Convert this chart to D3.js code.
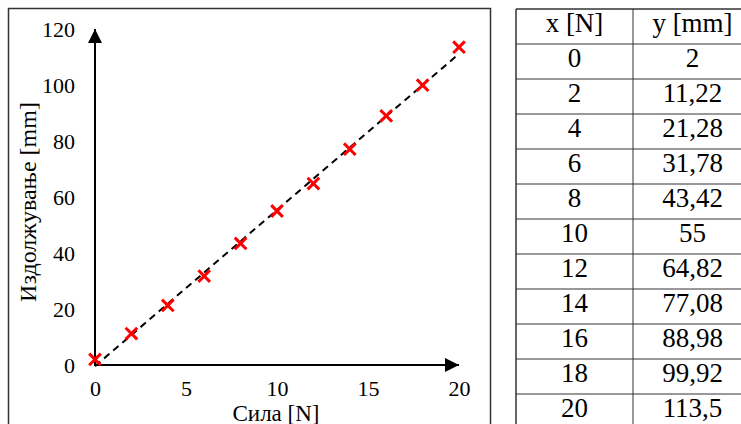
<!DOCTYPE html>
<html>
<head>
<meta charset="utf-8">
<script src="https://cdn.jsdelivr.net/npm/d3@7"></script>
<style>
	html, body { margin: 0; padding: 0; background: #fff; }
	svg { display: block; }
	svg text { font-family: "Liberation Serif"; }
</style>
</head>
<body>
<svg></svg>
<script>
var WIDTH = 741;
var HEIGHT = 424;
var FONT = '"Liberation Serif"';

// measured data (force in N, elongation in mm)
var forces = [0, 2, 4, 6, 8, 10, 12, 14, 16, 18, 20];
var elongations = [2, 11.22, 21.28, 31.78, 43.42, 55, 64.82, 77.08, 88.98, 99.92, 113.5];
var xTicks = [0, 5, 10, 15, 20];
var yTicks = [0, 20, 40, 60, 80, 100, 120];
var tableHeaders = ['x [N]', 'y [mm]'];

var svg = d3.select('svg')
	.attr('width', WIDTH)
	.attr('height', HEIGHT);

// frame around the chart
svg.append('rect')
	.attr('x', 8.5).attr('y', 8.5)
	.attr('width', 482).attr('height', 430)
	.attr('fill', 'none')
	.attr('stroke', '#333')
	.attr('stroke-width', 1.5);

var xScale = d3.scaleLinear().domain([0, 20]).range([95, 459]);
var yScale = d3.scaleLinear().domain([0, 120]).range([365, 29]);

// arrowheads
var defs = svg.append('defs');
defs.append('marker')
	.attr('id', 'arrow')
	.attr('viewBox', '0 0 10 10')
	.attr('refX', 10).attr('refY', 5)
	.attr('markerWidth', 7).attr('markerHeight', 7)
	.attr('markerUnits', 'strokeWidth')
	.attr('orient', 'auto')
	.append('path')
	.attr('d', 'M0,0 L10,5 L0,10 Z')
	.attr('fill', '#000');

// axes lines
svg.append('line')
	.attr('x1', xScale(0)).attr('y1', yScale(0))
	.attr('x2', xScale(20)).attr('y2', yScale(0))
	.attr('stroke', '#000').attr('stroke-width', 2)
	.attr('marker-end', 'url(#arrow)');
svg.append('line')
	.attr('x1', xScale(0)).attr('y1', yScale(0) + 1)
	.attr('x2', xScale(0)).attr('y2', yScale(120))
	.attr('stroke', '#000').attr('stroke-width', 2)
	.attr('marker-end', 'url(#arrow)');

// tick labels (no tick marks, as in the original)
var bottomAxis = d3.axisBottom(xScale).tickValues(xTicks).tickSize(0).tickPadding(15);
svg.append('g')
	.attr('id', 'x-axis')
	.attr('transform', 'translate(0,' + yScale(0) + ')')
	.call(bottomAxis)
	.attr('font-family', null)
	.call(function(g){ g.select('.domain').remove(); })
	.selectAll('text')
	.style('font-family', FONT)
	.style('font-size', '22px')
	.attr('fill', '#000');

var leftAxis = d3.axisLeft(yScale).tickValues(yTicks).tickSize(0).tickPadding(20);
svg.append('g')
	.attr('id', 'y-axis')
	.attr('transform', 'translate(' + xScale(0) + ',0)')
	.call(leftAxis)
	.attr('font-family', null)
	.call(function(g){ g.select('.domain').remove(); })
	.selectAll('text')
	.style('font-family', FONT)
	.style('font-size', '22px')
	.attr('fill', '#000');

// axis titles
svg.append('text')
	.attr('x', 276).attr('y', 421)
	.attr('text-anchor', 'middle')
	.style('font-family', FONT)
	.style('font-size', '23px')
	.text('Сила [N]');
svg.append('text')
	.attr('transform', 'translate(36,202) rotate(-90)')
	.attr('text-anchor', 'middle')
	.style('font-family', FONT)
	.style('font-size', '24px')
	.text('Издолжување [mm]');

// linear trend line (least squares fit of the data)
var mx = d3.mean(forces);
var my = d3.mean(elongations);
var sxy = d3.sum(forces, function(x, i){ return (x - mx) * (elongations[i] - my); });
var sxx = d3.sum(forces, function(x){ return (x - mx) * (x - mx); });
var slope = sxy / sxx;
var intercept = my - slope * mx;
var trend = [0, 20].map(function(x){ return [x, intercept + slope * x]; });

svg.append('path')
	.datum(trend)
	.attr('d', d3.line()
		.x(function(d){ return xScale(d[0]); })
		.y(function(d){ return yScale(d[1]); }))
	.attr('fill', 'none')
	.attr('stroke', '#000')
	.attr('stroke-width', 2)
	.attr('stroke-dasharray', '7,5');

// markers
var points = forces.map(function(x, i){ return {x: x, y: elongations[i]}; });
svg.append('g')
	.attr('id', 'points')
	.selectAll('path')
	.data(points)
	.enter()
	.append('path')
	.attr('transform', function(d){ return 'translate(' + xScale(d.x) + ',' + yScale(d.y) + ')'; })
	.attr('d', d3.symbol().type(d3.symbolX).size(90))
	.attr('fill', 'none')
	.attr('stroke', '#ff0000')
	.attr('stroke-width', 3);

// data table
var tableX = [516, 633, 752];
var rowH = 35;
var tableTop = 9;
var nRows = forces.length + 1;
var table = svg.append('g').attr('id', 'table');

var rows = [tableHeaders].concat(forces.map(function(x, i){
	return [String(x), String(elongations[i]).replace('.', ',')];
}));

// horizontal lines
table.selectAll('line.h')
	.data(d3.range(nRows + 1))
	.enter()
	.append('line')
	.attr('class', 'h')
	.attr('x1', tableX[0]).attr('x2', tableX[2])
	.attr('y1', function(i){ return tableTop + i * rowH; })
	.attr('y2', function(i){ return tableTop + i * rowH; })
	.attr('stroke', '#333')
	.attr('stroke-width', function(i){ return i === 0 ? 1.5 : 1; });

// vertical lines
table.selectAll('line.v')
	.data(tableX)
	.enter()
	.append('line')
	.attr('class', 'v')
	.attr('x1', function(d){ return d; }).attr('x2', function(d){ return d; })
	.attr('y1', tableTop).attr('y2', tableTop + nRows * rowH)
	.attr('stroke', '#333')
	.attr('stroke-width', function(d, i){ return i === 1 ? 1 : 1.5; });

rows.forEach(function(row, r){
	row.forEach(function(cell, c){
		table.append('text')
			.attr('x', (tableX[c] + tableX[c + 1]) / 2)
			.attr('y', tableTop + r * rowH + 23)
			.attr('text-anchor', 'middle')
			.style('font-family', FONT)
			.style('font-size', '27px')
			.attr('fill', '#000')
			.text(cell);
	});
});
</script>
</body>
</html>
